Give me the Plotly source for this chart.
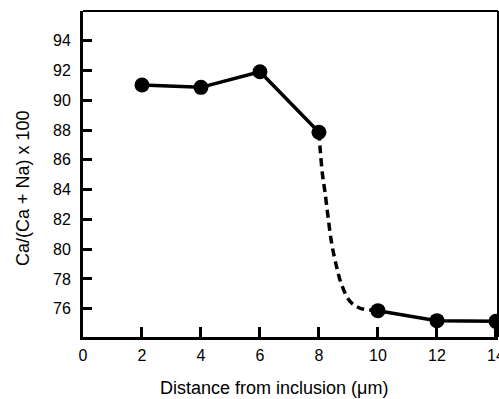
import plotly.graph_objects as go

# Measured data
distance = [2, 4, 6, 8, 10, 12, 14]
ratio = [91.03, 90.87, 91.92, 87.85, 75.87, 75.2, 75.15]

# Hand-drawn dashed transition between 8 and 10 um
curve_x = [8.0, 8.05, 8.12, 8.2, 8.3, 8.43, 8.6, 8.77, 9.05, 9.4, 10.0]
curve_y = [87.85, 86.5, 85.0, 83.9, 82.3, 80.4, 78.8, 77.6, 76.5, 76.03, 75.87]

x_ticks = [0, 2, 4, 6, 8, 10, 12, 14]
y_ticks = [76, 78, 80, 82, 84, 86, 88, 90, 92, 94]

x_title = "Distance from inclusion (\u03bcm)"
y_title = "Ca/(Ca + Na) x 100"

FONT = "Liberation Sans, Arial, Helvetica, sans-serif"

fig = go.Figure()

# Segment 1: solid 2..8
fig.add_trace(go.Scatter(
    x=distance[:4], y=ratio[:4], mode="lines+markers",
    line=dict(color="black", width=3.5),
    marker=dict(color="black", size=15),
    cliponaxis=False, showlegend=False))

# Dashed transition
fig.add_trace(go.Scatter(
    x=curve_x, y=curve_y, mode="lines",
    line=dict(color="black", width=3.5, dash="8px,5px", shape="spline", smoothing=1),
    showlegend=False))

# Segment 2: solid 10..14
fig.add_trace(go.Scatter(
    x=distance[4:], y=ratio[4:], mode="lines+markers",
    line=dict(color="black", width=3.5),
    marker=dict(color="black", size=15),
    cliponaxis=False, showlegend=False))

fig.update_layout(
    width=499, height=399,
    margin=dict(l=83, r=1, t=11, b=62),
    paper_bgcolor="white", plot_bgcolor="white",
    font=dict(family=FONT, color="black", size=16),
    xaxis=dict(range=[0, 14.07], tickvals=x_ticks, ticks="inside",
               ticklen=10, tickwidth=2.5, tickcolor="black",
               showline=True, linecolor="black", linewidth=3,
               showgrid=False, zeroline=False, ticklabeloverflow="allow",
               automargin=False, ticklabelstandoff=2,
               tickfont=dict(size=16, family=FONT)),
    yaxis=dict(range=[74.1, 96.0], tickvals=y_ticks, ticks="inside",
               ticklen=9, tickwidth=2.5, tickcolor="black",
               showline=True, linecolor="black", linewidth=3,
               showgrid=False, zeroline=False, ticklabeloverflow="allow",
               automargin=False, ticklabelstandoff=6,
               tickfont=dict(size=16, family=FONT)),
    shapes=[
        dict(type="line", xref="paper", yref="paper", x0=0, x1=1, y0=1, y1=1,
             line=dict(color="black", width=2)),
        dict(type="line", xref="paper", yref="paper", x0=1, x1=1, y0=0, y1=1,
             line=dict(color="black", width=2)),
    ],
    annotations=[
        dict(text=x_title, xref="paper", yref="paper", x=(273.5 - 83) / 415,
             y=-(388 - 337) / 326, xanchor="center", yanchor="middle",
             showarrow=False, font=dict(size=18, family=FONT)),
        dict(text=y_title, xref="paper", yref="paper", x=(23 - 83) / 415,
             y=(337 - 188) / 326, xanchor="center", yanchor="middle",
             textangle=-90, showarrow=False, font=dict(size=18, family=FONT)),
    ],
)

fig.write_html("out.html")
